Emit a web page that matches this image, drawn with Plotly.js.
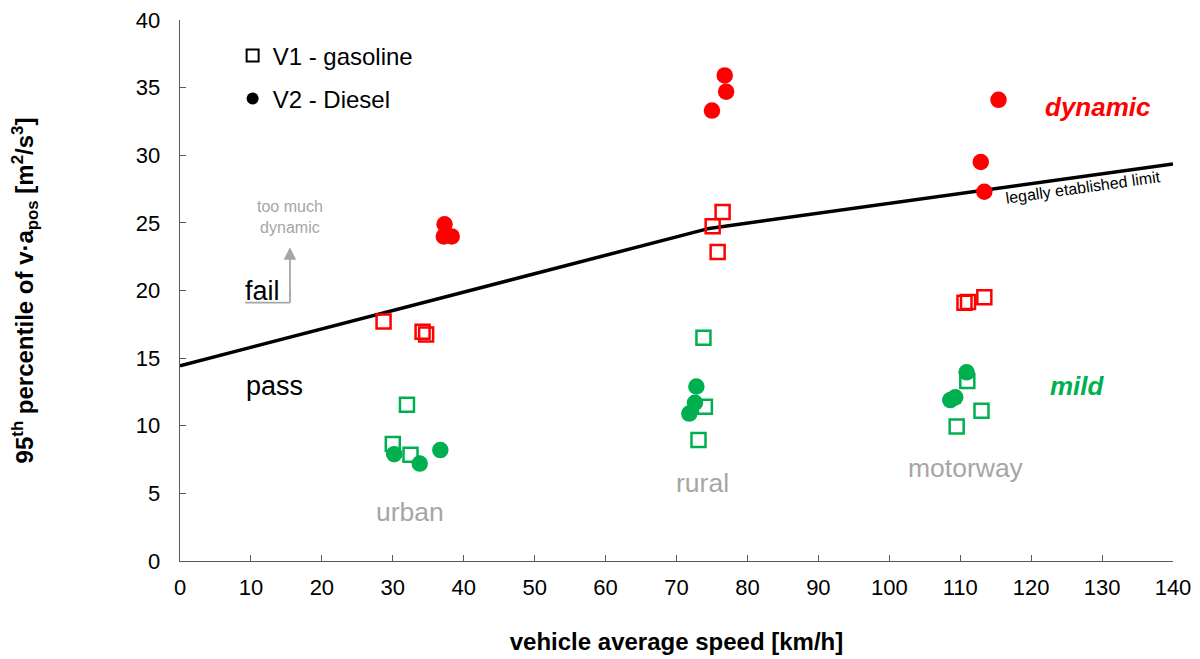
<!DOCTYPE html>
<html>
<head>
<meta charset="utf-8">
<script src="https://cdn.plot.ly/plotly-3.0.1.min.js"></script>
<style>html,body{margin:0;padding:0;background:#fff;}#chart{width:1200px;height:659px;}</style>
</head>
<body>
<div id="chart"></div>
<script>
// V1 - gasoline, dynamic (red squares)
const gasDynX = [28.7, 34.2, 34.7, 75.1, 76.5, 75.8, 110.6, 111.1, 113.4];
const gasDynY = [17.7, 16.95, 16.75, 24.75, 25.8, 22.85, 19.1, 19.15, 19.5];
// V1 - gasoline, mild (green squares)
const gasMildX = [32.0, 30.0, 32.5, 73.8, 74.0, 73.1, 111.0, 113.0, 109.5];
const gasMildY = [11.55, 8.65, 7.85, 16.5, 11.4, 8.95, 13.3, 11.1, 9.95];
// V2 - Diesel, dynamic (red circles)
const dieDynX = [37.3, 37.2, 38.3, 76.8, 77.0, 75.0, 115.4, 112.9, 113.4];
const dieDynY = [24.9, 24.0, 24.0, 35.9, 34.7, 33.3, 34.1, 29.5, 27.3];
// V2 - Diesel, mild (green circles)
const dieMildX = [30.2, 33.8, 36.7, 72.8, 72.6, 71.8, 110.9, 108.6, 109.3];
const dieMildY = [7.9, 7.2, 8.2, 12.9, 11.7, 10.9, 13.95, 11.9, 12.1];
// legally established limit
const limitX = [0, 74.6, 140];
const limitY = [14.44, 24.59, 29.35];

const RED = '#ff0000', GREEN = '#00b050', GRAY = '#a6a6a6';
const sq = (c) => ({symbol: 'square-open', size: 14, color: c, line: {width: 2.5, color: c}});
const ci = (c) => ({symbol: 'circle', size: 16.5, color: c});

const traces = [
  {x: limitX, y: limitY, mode: 'lines', line: {color: '#000', width: 3.5}, showlegend: false, hoverinfo: 'skip'},
  {x: gasDynX, y: gasDynY, mode: 'markers', marker: sq(RED), showlegend: false},
  {x: gasMildX, y: gasMildY, mode: 'markers', marker: sq(GREEN), showlegend: false},
  {x: dieDynX, y: dieDynY, mode: 'markers', marker: ci(RED), showlegend: false},
  {x: dieMildX, y: dieMildY, mode: 'markers', marker: ci(GREEN), showlegend: false},
  {x: [null], y: [null], mode: 'markers', name: 'V1 - gasoline', legend: 'legend',
   marker: {symbol: 'square-open', size: 15, color: '#000', line: {width: 1.2, color: '#000'}}},
  {x: [null], y: [null], mode: 'markers', name: 'V2 - Diesel', legend: 'legend2',
   marker: {symbol: 'circle', size: 15, color: '#000'}}
];

const F = 'Liberation Sans, Arial, sans-serif';
const legBase = {xanchor: 'left', yanchor: 'middle', bgcolor: 'rgba(0,0,0,0)', font: {size: 24, family: F, color: '#000'}, itemsizing: 'constant'};
const layout = {
  width: 1200, height: 659,
  margin: {l: 180, r: 27, t: 20, b: 98},
  paper_bgcolor: '#fff', plot_bgcolor: '#fff',
  font: {family: F, size: 22, color: '#000'},
  showlegend: true,
  legend: Object.assign({x: 0.053, y: 0.9335}, legBase),
  legend2: Object.assign({x: 0.053, y: 0.854}, legBase),
  xaxis: {
    range: [0, 140], dtick: 10, tick0: 0, showgrid: false, zeroline: false,
    showline: true, linecolor: '#595959', linewidth: 1.3,
    ticks: 'inside', ticklen: 6, tickcolor: '#595959', tickfont: {size: 22, family: F},
    ticklabelstandoff: 6,
    title: {text: '<b>vehicle average speed [km/h]</b>', font: {size: 24, family: F}, standoff: 34}
  },
  yaxis: {
    range: [0, 40], dtick: 5, tick0: 0, showgrid: false, zeroline: false,
    showline: true, linecolor: '#595959', linewidth: 1.3,
    ticks: 'inside', ticklen: 6, tickcolor: '#595959', tickfont: {size: 22, family: F},
    ticklabelstandoff: 14,
    title: {text: '<b>95<sup>th</sup> percentile of v·a<sub>pos</sub> [m<sup>2</sup>/s<sup>3</sup>]</b>', font: {size: 24, family: F}, standoff: 95}
  },
  annotations: [
    {x: 129.4, y: 33.6, text: '<b><i>dynamic</i></b>', showarrow: false, font: {size: 26, color: RED, family: F}},
    {x: 126.5, y: 12.95, text: '<b><i>mild</i></b>', showarrow: false, font: {size: 26, color: GREEN, family: F}},
    {x: 32.4, y: 3.6, text: 'urban', showarrow: false, font: {size: 26.5, color: GRAY, family: F}},
    {x: 73.7, y: 5.8, text: 'rural', showarrow: false, font: {size: 26.5, color: GRAY, family: F}},
    {x: 110.8, y: 6.9, text: 'motorway', showarrow: false, font: {size: 26.5, color: GRAY, family: F}},
    {x: 13.3, y: 12.95, text: 'pass', showarrow: false, font: {size: 27, color: '#000', family: F}},
    {x: 11.7, y: 20.0, text: 'fail', showarrow: false, font: {size: 27, color: '#000', family: F}},
    {x: 15.5, y: 25.4, text: 'too much<br>dynamic', showarrow: false, font: {size: 16, color: GRAY, family: F}},
    {x: 127.3, y: 27.6, text: 'legally etablished limit', showarrow: false, textangle: -8, font: {size: 16, color: '#000', family: F}},
    {x: 15.5, y: 23.2, ax: 15.5, ay: 19.45, axref: 'x', ayref: 'y', xref: 'x', yref: 'y', text: '', showarrow: true, arrowhead: 2, arrowsize: 1.4, arrowwidth: 1.8, arrowcolor: GRAY}
  ],
  shapes: [
    {type: 'line', xref: 'x', yref: 'y', x0: 9.2, y0: 19.1, x1: 15.5, y1: 19.1, line: {color: GRAY, width: 1.8}},
    {type: 'line', xref: 'x', yref: 'y', x0: 15.5, y0: 19.1, x1: 15.5, y1: 19.9, line: {color: GRAY, width: 1.8}}
  ]
};

Plotly.newPlot('chart', traces, layout, {displayModeBar: false, staticPlot: true});
</script>
</body>
</html>
